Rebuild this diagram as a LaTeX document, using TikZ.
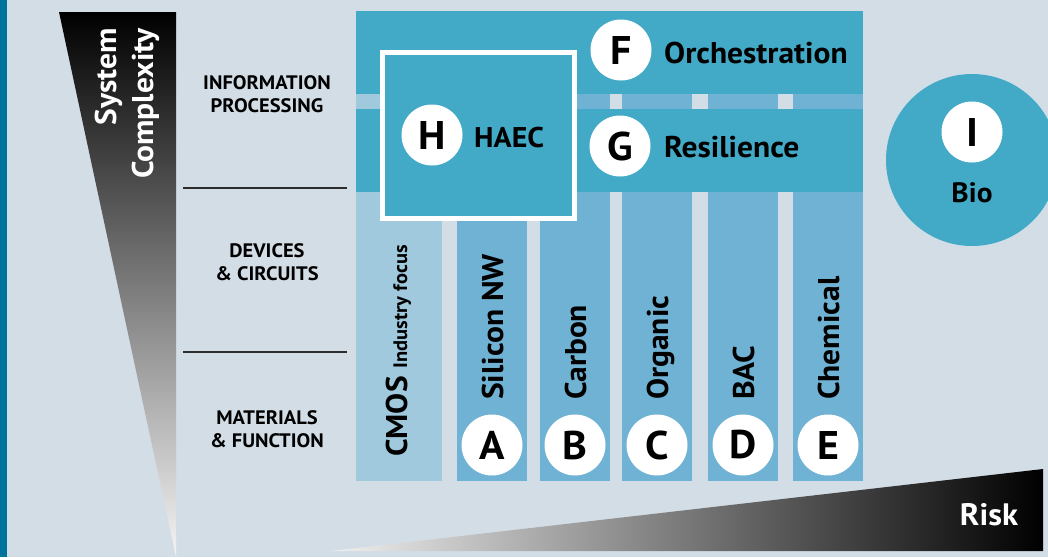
\documentclass[tikz,border=0pt]{standalone}
\usepackage{fontspec}
\setmainfont{PT Sans}[FakeStretch=1.05]
\definecolor{bgc}{RGB}{211,221,230}
\definecolor{stripc}{RGB}{0,114,155}
\definecolor{bandc}{RGB}{66,170,199}
\definecolor{colc}{RGB}{111,178,211}
\definecolor{cmosc}{RGB}{160,201,221}
\definecolor{sepc}{RGB}{45,45,45}
\begin{document}
\begin{tikzpicture}[x=1pt,y=-1pt,
  letter/.style={circle,fill=white,minimum size=61pt,inner sep=0pt,
    font=\fontsize{40}{40}\selectfont\bfseries},
  biglbl/.style={inner sep=0pt,anchor=base west,font=\fontsize{30}{30}\selectfont\bfseries},
  vlbl/.style={biglbl,rotate=90},
  sidelbl/.style={align=center,inner sep=0pt,font=\fontsize{19.5}{23}\selectfont\bfseries},
  sepline/.style={draw=sepc,line width=1.5pt}]
\useasboundingbox (0,0) rectangle (1048,557);
\clip (0,0) rectangle (1048,557);
\fill[bgc] (0,0) rectangle (1048,557);
\fill[stripc] (0,0) rectangle (7,557);
% gradients
\shade[top color=black,bottom color=gray!8] (59,12) -- (176,12) -- (176,557) -- cycle;
\shade[left color=gray!12,right color=black] (331,551) -- (1043,469) -- (1043,551) -- cycle;
% columns
\fill[cmosc] (356,11) rectangle (442,481);
\fill[colc] (457,11) rectangle (527,481);
\fill[colc] (540,11) rectangle (610,481);
\fill[colc] (622,11) rectangle (692,481);
\fill[colc] (708,11) rectangle (778,481);
\fill[colc] (793,11) rectangle (863,481);
% bands
\fill[bandc] (356,11) rectangle (863,94);
\fill[bandc] (356,109) rectangle (863,192);
% HAEC box
\draw[white,line width=5pt,fill=bandc] (382.5,52.5) rectangle (574.5,218.5);
% Bio circle
\fill[bandc] (972,160) circle (86);
% side labels
\draw[sepline] (183,188) -- (347,188);
\draw[sepline] (183,352) -- (347,352);
\node[sidelbl] (info) at (267,94.5) {INFORMATION\\PROCESSING};
\node[sidelbl] (dev) at (267,262) {DEVICES\\\& CIRCUITS};
\node[sidelbl] (mat) at (267,429.5) {MATERIALS\\\& FUNCTION};
\node[rotate=90,anchor=east,align=right,inner sep=0pt,text=white,
  font=\fontsize{30}{37}\selectfont\bfseries] (sys) at (127,28) {System\\Complexity};
\node[inner sep=0pt,text=white,font=\fontsize{31}{31}\selectfont\bfseries] (risk) at (989,515) {Risk};
% circles
\node[letter] (H) at (432,135) {H};
\node[letter] (F) at (621,50) {F};
\node[letter] (G) at (620,146) {G};
\node[letter] (I) at (972,132) {I};
\node[letter] (A) at (492,445) {A};
\node[letter] (B) at (575,445) {B};
\node[letter] (C) at (657,445) {C};
\node[letter] (D) at (743,445) {D};
\node[letter] (E) at (828,445) {E};
% labels
\node[biglbl] (orch) at (664,63) {Orchestration};
\node[biglbl] (res) at (664,157) {Resilience};
\node[biglbl,font=\fontsize{28.5}{28.5}\selectfont\bfseries] (haec) at (474,147) {HAEC};
\node[inner sep=0pt,font=\fontsize{28}{28}\selectfont\bfseries] (bio) at (972,193) {Bio};
\node[vlbl] (cmos) at (407,457) {CMOS {\fontsize{19.5}{19.5}\selectfont Industry focus}};
\node[vlbl] (sil) at (503,400) {Silicon NW};
\node[vlbl] (carb) at (586,400) {Carbon};
\node[vlbl] (org) at (668,400) {Organic};
\node[vlbl] (bac) at (754,400) {BAC};
\node[vlbl] (chem) at (839,400) {Chemical};
\end{tikzpicture}
\end{document}
